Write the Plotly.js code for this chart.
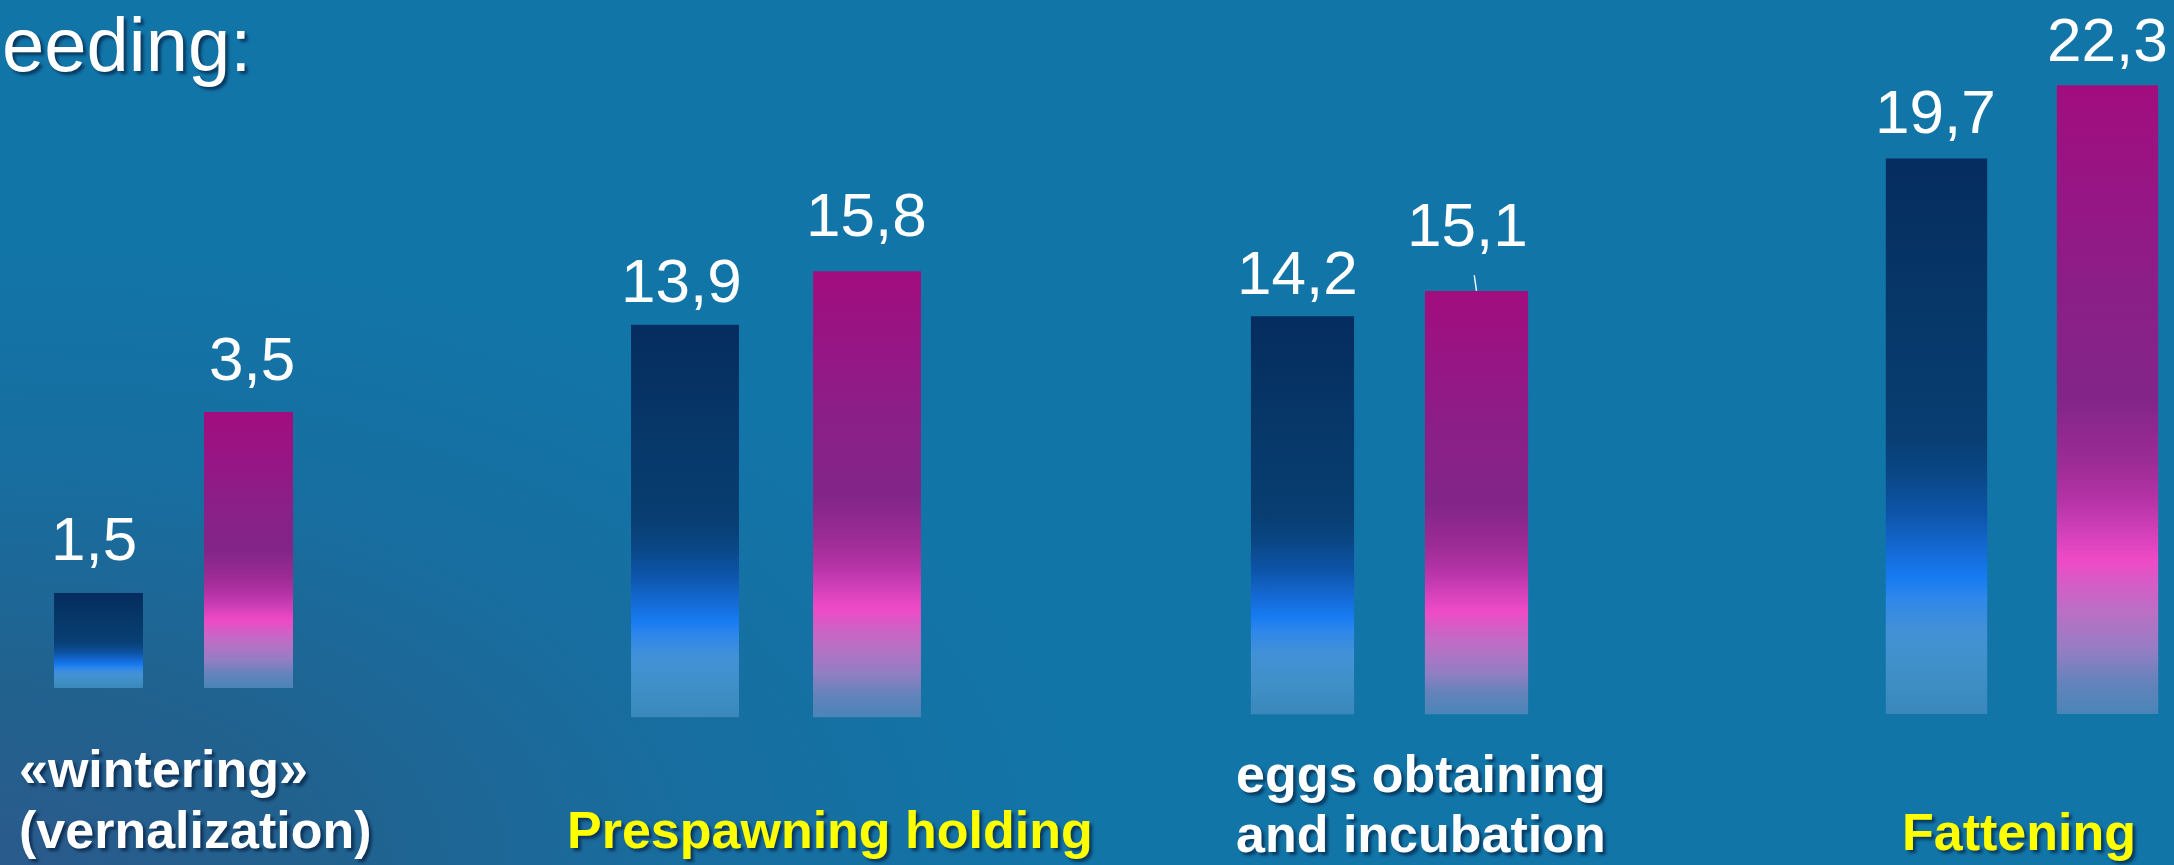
<!DOCTYPE html>
<html>
<head>
<meta charset="utf-8">
<script src="https://cdn.plot.ly/plotly-3.0.1.min.js"></script>
<style>
  html, body { margin: 0; padding: 0; }
  body {
    width: 2174px; height: 865px; overflow: hidden;
    background: radial-gradient(ellipse 1100px 620px at 0% 100%, #2a5a8c 0%, #21628f 30%, #186d9f 62%, #1275a8 100%), #1275a8;
  }
  #chart { width: 2174px; height: 865px; }
</style>
</head>
<body>
<div id="chart"></div>
<script>
// ---------------- data ----------------
const categories = ['«wintering»\n(vernalization)', 'Prespawning holding', 'eggs obtaining\nand incubation', 'Fattening'];
const seriesA = [1.5, 13.9, 14.2, 19.7];   // dark blue bars
const seriesB = [3.5, 15.8, 15.1, 22.3];   // magenta bars
const titleText = 'eeding:';

// ---------------- styles / positions (not data) ----------------
const W = 2174, H = 865;
const FONT = '"Liberation Sans", Arial, Helvetica, sans-serif';
const categoryColors = ['#ffffff', '#ffff00', '#ffffff', '#ffff00'];
const blueScale = [
  [0.00, '#3a88bb'], [0.08, '#4090c8'], [0.15, '#4391d6'], [0.21, '#2e87ea'],
  [0.245, '#177bf2'], [0.30, '#1468d2'], [0.36, '#0d55aa'], [0.43, '#0a4786'],
  [0.50, '#083e72'], [0.70, '#07386a'], [1.00, '#052c5e']
];
const pinkScale = [
  [0.00, '#4a85b8'], [0.05, '#6383bb'], [0.10, '#937ec3'], [0.16, '#b970c5'],
  [0.20, '#d060c6'], [0.245, '#ef4ac6'], [0.29, '#d240b9'], [0.34, '#b533a6'],
  [0.40, '#9c2c95'], [0.50, '#822588'], [0.66, '#8a1f88'], [0.82, '#961685'],
  [1.00, '#a20d7e']
];
// each group is its own little chart (own scale), as in the slide
const panels = [
  { xPx: [23.5, 323.5],    xr: [-0.5, 1.5],  basePx: 688,   pxPerUnit: 90.5,  y0: 0.45 },
  { xPx: [594, 958],       xr: [-0.5, 1.5],  basePx: 717.5, pxPerUnit: 28.25, y0: 0 },
  { xPx: [1215.5, 1563.5], xr: [-0.5, 1.5],  basePx: 714.6, pxPerUnit: 28.06, y0: 0 },
  { xPx: [1851, 2167.35],  xr: [-0.5, 1.35], basePx: 714,   pxPerUnit: 28.2,  y0: 0 }
];
const barWidth = 0.593;
const valueLabelGap = [[33, 32.5], [23, 35], [22, 45], [26, 24]];
const valueLabelDx = [[-5, 3], [-4, -1], [-5, -9.5], [-1, 0]];
const catLayout = [
  { x: 17,     anchor: 'left',   baselines: [787, 848] },
  { x: 830,    anchor: 'center', baselines: [848] },
  { x: 1421,   anchor: 'center', baselines: [792, 852] },
  { x: 2018.5, anchor: 'center', baselines: [850] }
];
const VALUE_SIZE = 62, CAT_SIZE = 52, TITLE_SIZE = 76;
const fmt = v => v.toFixed(1).replace('.', ',');

// ---------------- build ----------------
const traces = [];
const layout = {
  width: W, height: H,
  margin: { l: 0, r: 0, t: 0, b: 0 },
  paper_bgcolor: 'rgba(0,0,0,0)',
  plot_bgcolor: 'rgba(0,0,0,0)',
  showlegend: false,
  hovermode: false,
  annotations: []
};

panels.forEach((p, i) => {
  const n = i + 1;
  const xa = 'xaxis' + (n === 1 ? '' : n), ya = 'yaxis' + (n === 1 ? '' : n);
  const xref = 'x' + (n === 1 ? '' : n), yref = 'y' + (n === 1 ? '' : n);
  const yTop = p.y0 + p.basePx / p.pxPerUnit;
  layout[xa] = { domain: [p.xPx[0] / W, p.xPx[1] / W], range: p.xr, visible: false, fixedrange: true, anchor: yref };
  layout[ya] = { domain: [1 - p.basePx / H, 1], range: [p.y0, yTop], visible: false, fixedrange: true, anchor: xref };

  [[seriesA[i], blueScale, 0], [seriesB[i], pinkScale, 1]].forEach(([v, scale, k]) => {
    const c = k, h = barWidth / 2;
    traces.push({
      type: 'scatter', mode: 'lines', xaxis: xref, yaxis: yref,
      x: [c - h, c - h, c + h, c + h, c - h],
      y: [0, v, v, 0, 0],
      fill: 'toself',
      line: { width: 0, color: 'rgba(0,0,0,0)' },
      fillgradient: { type: 'vertical', colorscale: scale, start: p.y0, stop: v },
      hoverinfo: 'skip'
    });
    const gap = valueLabelGap[i][k];
    const desc = 0.212 * VALUE_SIZE + 2;
    if (i === 2 && k === 1) {
      // label with short leader line
      const asc = 0.905 * VALUE_SIZE + 2;
      layout.annotations.push({
        x: c, y: v, xref: xref, yref: yref, text: fmt(v),
        showarrow: true, arrowhead: 0, arrowwidth: 1.4, arrowcolor: '#ffffff',
        ax: valueLabelDx[i][k], ay: -(gap + (asc - desc) / 2),
        startstandoff: 15,
        font: { family: FONT, size: VALUE_SIZE, color: '#ffffff' }
      });
    } else {
      layout.annotations.push({
        x: c, y: v, xref: xref, yref: yref, text: fmt(v),
        showarrow: false, xanchor: 'center', yanchor: 'bottom',
        yshift: gap - desc, xshift: valueLabelDx[i][k],
        font: { family: FONT, size: VALUE_SIZE, color: '#ffffff' }
      });
    }
  });

  // category label lines
  const lines = categories[i].split('\n');
  lines.forEach((ln, j) => {
    const bl = catLayout[i].baselines[j];
    layout.annotations.push({
      xref: 'paper', yref: 'paper', x: catLayout[i].x / W,
      y: 1 - (bl + 0.212 * CAT_SIZE + 2) / H,
      xanchor: catLayout[i].anchor, yanchor: 'bottom', showarrow: false,
      text: ln,
      font: { family: FONT, size: CAT_SIZE, color: categoryColors[i], weight: 700,
              shadow: '3px 3px 3px rgba(0,20,50,0.6)' }
    });
  });
});

// slide title (at the top-left corner, as in the original)
layout.annotations.push({
  xref: 'paper', yref: 'paper', x: 0, y: 1,
  xanchor: 'left', yanchor: 'top', showarrow: false, text: titleText,
  font: { family: FONT, size: TITLE_SIZE, color: '#ffffff', shadow: '3px 3px 3px rgba(0,20,50,0.6)' }
});

Plotly.newPlot('chart', traces, layout, { displayModeBar: false, staticPlot: true });
</script>
</body>
</html>
